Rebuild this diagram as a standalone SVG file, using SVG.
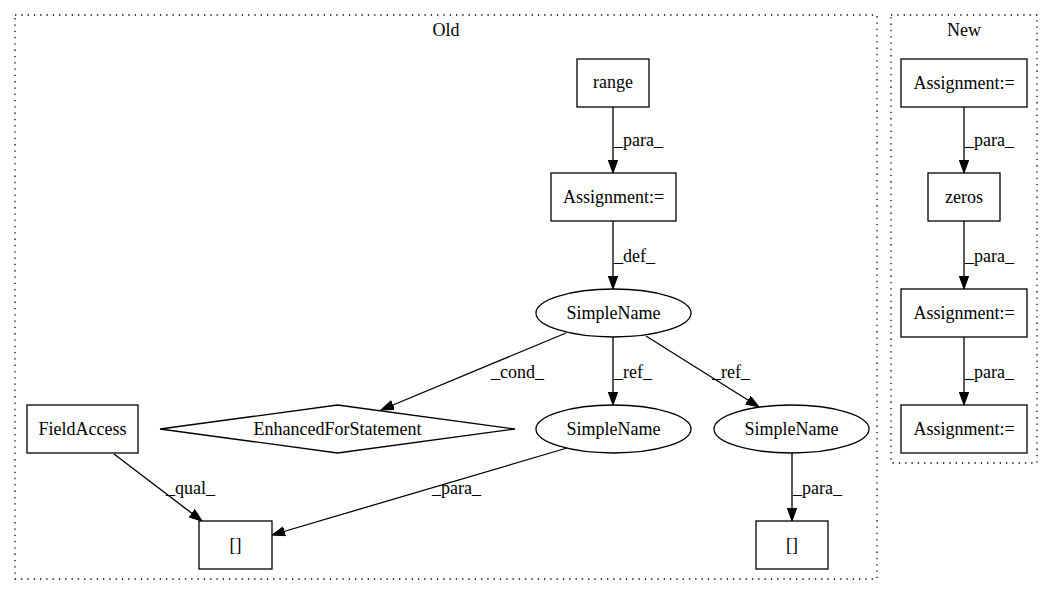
<svg xmlns="http://www.w3.org/2000/svg" width="1053" height="596" viewBox="0 0 1053 596">
<defs>
<marker id="ah" markerWidth="14" markerHeight="10" refX="13" refY="4.7" orient="auto" markerUnits="userSpaceOnUse"><path d="M0,0 L13,4.7 L0,9.4 z" fill="#000" stroke="#000" stroke-width="1"/></marker>
</defs>
<style>
text{font-family:"Liberation Serif","Times New Roman",serif;font-size:18px;fill:#000}
.n{fill:#fff;stroke:#000;stroke-width:1.3}
.c{fill:none;stroke:#000;stroke-width:1.3;stroke-dasharray:1.3,5}
.e{fill:none;stroke:#000;stroke-width:1.3;marker-end:url(#ah)}
.m{text-anchor:middle}
</style>
<rect width="1053" height="596" fill="#fff"/>
<g id="cluster-old"><rect class="c" x="15" y="15" width="862" height="564"/><text class="m" x="446" y="36">Old</text></g>
<g id="cluster-new"><rect class="c" x="891" y="15" width="146" height="448"/><text class="m" x="964" y="36">New</text></g>
<g id="connectors">
<line class="e" x1="613" y1="107" x2="613" y2="173"/><text x="614" y="146">_para_</text>
<line class="e" x1="613" y1="221" x2="613" y2="289"/><text x="614" y="262">_def_</text>
<line class="e" x1="566" y1="333" x2="381" y2="410"/><text x="491" y="378">_cond_</text>
<line class="e" x1="613" y1="337" x2="613" y2="405"/><text x="614" y="378">_ref_</text>
<line class="e" x1="646" y1="336" x2="759" y2="407"/><text x="712" y="378">_ref_</text>
<line class="e" x1="567" y1="448" x2="272" y2="535"/><text x="432" y="494">_para_</text>
<line class="e" x1="114" y1="454" x2="202" y2="521"/><text x="166" y="494">_qual_</text>
<line class="e" x1="792" y1="453" x2="792" y2="521"/><text x="793" y="494">_para_</text>
<line class="e" x1="964" y1="107" x2="964" y2="173"/><text x="965" y="146">_para_</text>
<line class="e" x1="964" y1="221" x2="964" y2="289"/><text x="965" y="262">_para_</text>
<line class="e" x1="964" y1="337" x2="964" y2="405"/><text x="965" y="378">_para_</text>
</g>
<g id="range"><rect class="n" x="577" y="59" width="72" height="48"/><text class="m" x="613" y="88">range</text></g>
<g id="assign-old"><rect class="n" x="551" y="173" width="125" height="48"/><text class="m" x="613.5" y="203">Assignment:=</text></g>
<g id="simplename-top"><ellipse class="n" cx="613.5" cy="313" rx="77.5" ry="24"/><text class="m" x="613.5" y="319">SimpleName</text></g>
<g id="efs"><polygon class="n" points="337.5,405 515,429 337.5,453 160,429"/><text class="m" x="337.5" y="435">EnhancedForStatement</text></g>
<g id="simplename-mid"><ellipse class="n" cx="613.5" cy="429" rx="77.5" ry="24"/><text class="m" x="613.5" y="435">SimpleName</text></g>
<g id="simplename-right"><ellipse class="n" cx="791.5" cy="429" rx="77.5" ry="24"/><text class="m" x="791.5" y="435">SimpleName</text></g>
<g id="fieldaccess"><rect class="n" x="27" y="405" width="111" height="48"/><text class="m" x="82.5" y="435">FieldAccess</text></g>
<g id="idx-left"><rect class="n" x="199" y="521" width="73" height="48"/><text class="m" x="235.5" y="551">[]</text></g>
<g id="idx-right"><rect class="n" x="756" y="521" width="72" height="48"/><text class="m" x="792" y="551">[]</text></g>
<g id="assign-new1"><rect class="n" x="901" y="59" width="126" height="48"/><text class="m" x="964" y="89">Assignment:=</text></g>
<g id="zeros"><rect class="n" x="928" y="173" width="72" height="48"/><text class="m" x="964" y="203">zeros</text></g>
<g id="assign-new2"><rect class="n" x="901" y="289" width="126" height="48"/><text class="m" x="964" y="319">Assignment:=</text></g>
<g id="assign-new3"><rect class="n" x="901" y="405" width="126" height="48"/><text class="m" x="964" y="435">Assignment:=</text></g>
</svg>
